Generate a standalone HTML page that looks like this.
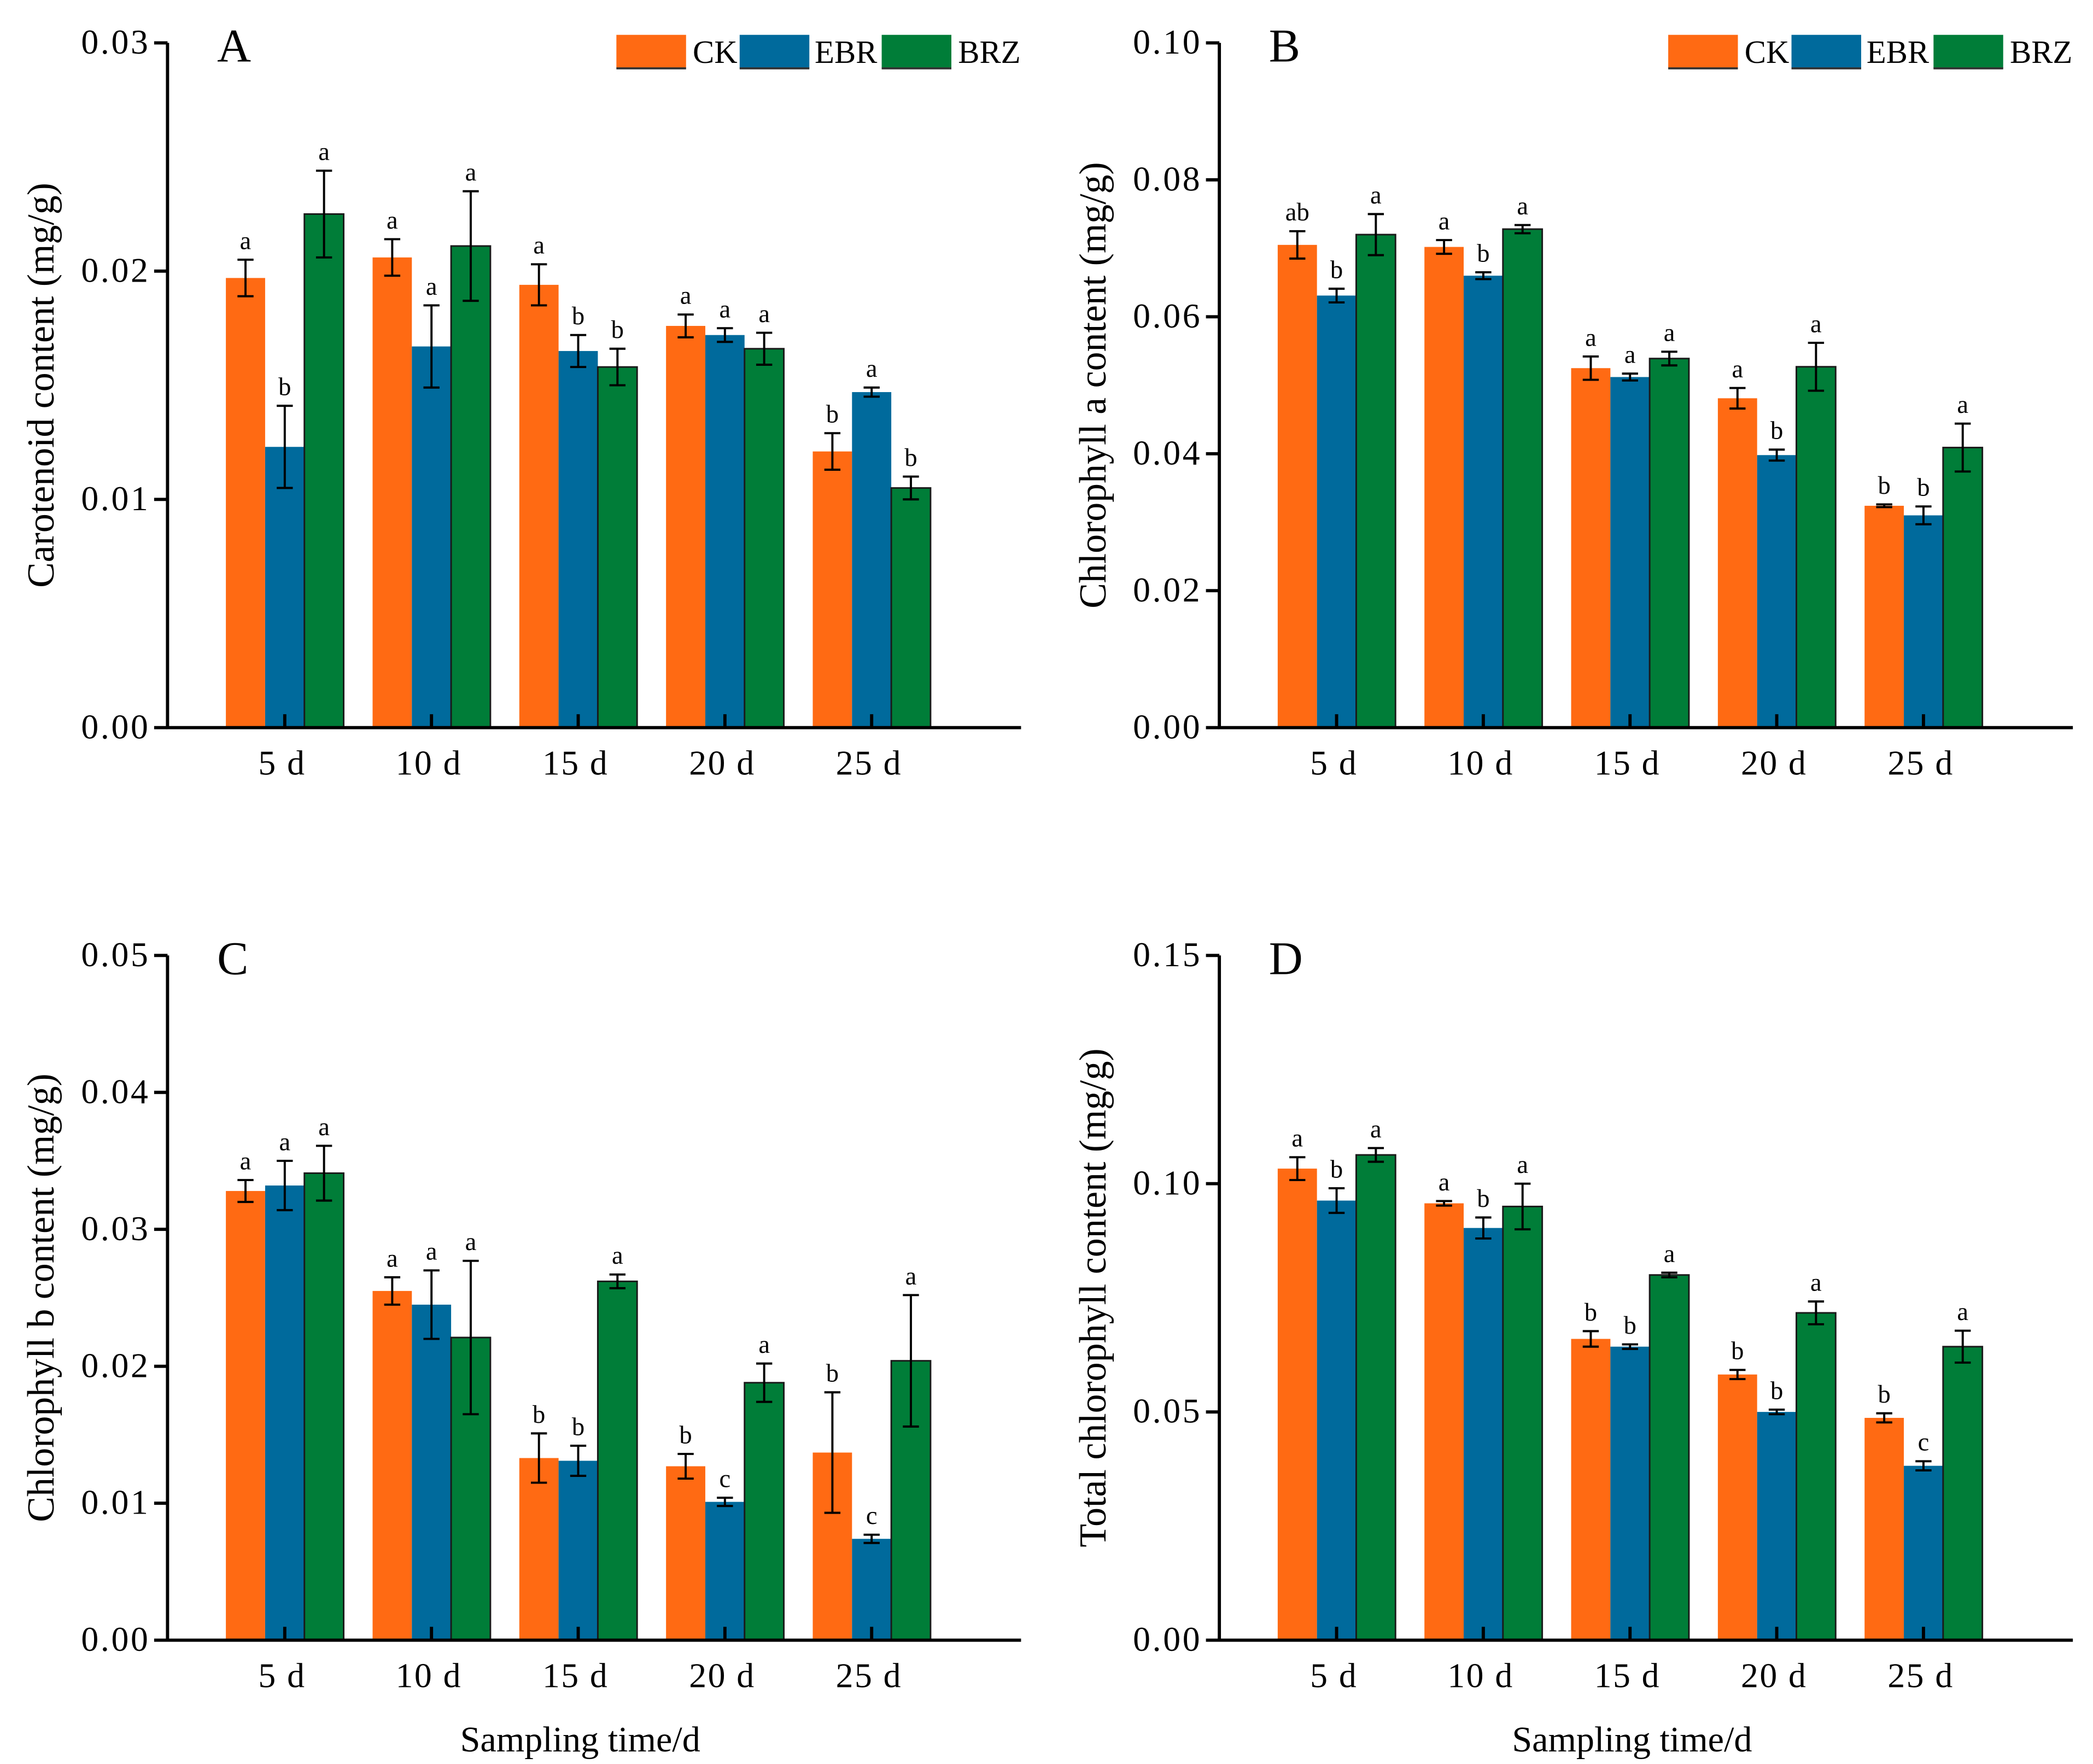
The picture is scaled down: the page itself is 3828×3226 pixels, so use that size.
<!DOCTYPE html>
<html><head><meta charset="utf-8"><style>
html,body{margin:0;padding:0;background:#fff;}
svg{display:block;font-family:"Liberation Serif",serif;}
</style></head><body>
<svg id="fig" width="3828" height="3226" viewBox="0 0 1562 1316.4" xmlns="http://www.w3.org/2000/svg">
<rect x="0" y="0" width="1562" height="1317" fill="#fff"/>
</svg>
<script>
const categories = ["5 d","10 d","15 d","20 d","25 d"];
const seriesNames = ["CK","EBR","BRZ"];
// Panel A: carotenoid
const aCK = [0.0197,0.0206,0.0194,0.0176,0.0121];
const aCKerr = [0.0008,0.0008,0.0009,0.0005,0.0008];
const aEBR = [0.0123,0.0167,0.0165,0.0172,0.0147];
const aEBRerr = [0.0018,0.0018,0.0007,0.0003,0.0002];
const aBRZ = [0.0225,0.0211,0.0158,0.0166,0.0105];
const aBRZerr = [0.0019,0.0024,0.0008,0.0007,0.0005];
const aLetters = [["a","a","a","a","b"],["b","a","b","a","a"],["a","a","b","a","b"]];
const aTicks = ["0.00","0.01","0.02","0.03"];
// Panel B: chlorophyll a
const bCK = [0.0705,0.0702,0.0525,0.0481,0.0324];
const bCKerr = [0.0020,0.0010,0.0017,0.0015,0.0002];
const bEBR = [0.0631,0.0660,0.0512,0.0398,0.0310];
const bEBRerr = [0.0010,0.0005,0.0005,0.0008,0.0013];
const bBRZ = [0.0720,0.0728,0.0539,0.0527,0.0409];
const bBRZerr = [0.0030,0.0006,0.0010,0.0035,0.0035];
const bLetters = [["ab","a","a","a","b"],["b","b","a","b","b"],["a","a","a","a","a"]];
const bTicks = ["0.00","0.02","0.04","0.06","0.08","0.10"];
// Panel C: chlorophyll b
const cCK = [0.0328,0.0255,0.0133,0.0127,0.0137];
const cCKerr = [0.0008,0.0010,0.0018,0.0009,0.0044];
const cEBR = [0.0332,0.0245,0.0131,0.0101,0.0074];
const cEBRerr = [0.0018,0.0025,0.0011,0.0003,0.0003];
const cBRZ = [0.0341,0.0221,0.0262,0.0188,0.0204];
const cBRZerr = [0.0020,0.0056,0.0005,0.0014,0.0048];
const cLetters = [["a","a","b","b","b"],["a","a","b","c","c"],["a","a","a","a","a"]];
const cTicks = ["0.00","0.01","0.02","0.03","0.04","0.05"];
// Panel D: total chlorophyll
const dCK = [0.1033,0.0957,0.0660,0.0582,0.0487];
const dCKerr = [0.0025,0.0005,0.0017,0.0010,0.0010];
const dEBR = [0.0963,0.0903,0.0643,0.0500,0.0382];
const dEBRerr = [0.0027,0.0023,0.0005,0.0005,0.0010];
const dBRZ = [0.1063,0.0950,0.0800,0.0717,0.0643];
const dBRZerr = [0.0015,0.0050,0.0005,0.0025,0.0035];
const dLetters = [["a","a","b","b","b"],["b","b","b","b","c"],["a","a","a","a","a"]];
const dTicks = ["0.00","0.05","0.10","0.15"];

const colors = ["#FF6A13","#006A9C","#007D38"];
const NS = "http://www.w3.org/2000/svg";
const svg = document.getElementById("fig");
function mk(tag, attrs, parent, txt){
  const e = document.createElementNS(NS, tag);
  for (const k in attrs) e.setAttribute(k, attrs[k]);
  if (txt !== undefined) e.textContent = txt;
  (parent || svg).appendChild(e);
  return e;
}
function panel(id, ox, oy, ticks, vals, errs, letters, ytitle, letter, showLegend, showX){
  const g = mk("g", {});
  
  
  const x0 = ox + 125, x1 = ox + 762, yTop = oy + 32, yBot = oy + 543;
  const yMax = parseFloat(ticks[ticks.length - 1]);
  const yS = v => yBot - v / yMax * (yBot - yTop);
  const xC = i => ox + 212.5 + i * 109.5;
  const bw = 29.3;
  for (let s = 0; s < 3; s++) {
    for (let i = 0; i < categories.length; i++) {
      const v = vals[s][i], e = errs[s][i];
      const bx = xC(i) + (s - 1.5) * bw;
      const r = mk("rect", {x: bx, y: yS(v), width: bw, height: yBot - yS(v), fill: colors[s], stroke: s == 2 ? "#1a1a1a" : "none", "stroke-width": 1.2}, g);
      
      
      const cx = bx + bw / 2;
      const eb = mk("g", {stroke: "#000", "stroke-width": 1.6}, g);
      
      
      mk("line", {x1: cx, x2: cx, y1: yS(v + e), y2: yS(v - e)}, eb);
      mk("line", {x1: cx - 6, x2: cx + 6, y1: yS(v + e), y2: yS(v + e)}, eb);
      mk("line", {x1: cx - 6, x2: cx + 6, y1: yS(v - e), y2: yS(v - e)}, eb);
      const t = mk("text", {x: cx, y: yS(v + e) - 8, "text-anchor": "middle", "font-size": 19}, g, letters[s][i]);
      
      
    }
  }
  const ax = mk("path", {d: `M${x0},${yTop}V${yBot}H${x1}`, fill: "none", stroke: "#000", "stroke-width": 2.4}, g);
  
  
  ticks.forEach((t, k) => {
    const y = yS(parseFloat(t));
    mk("line", {x1: x0 - 10, x2: x0, y1: y, y2: y, stroke: "#000", "stroke-width": 2.4}, g);
    const tl = mk("text", {x: x0 - 13, y: y + 8, "text-anchor": "end", "font-size": 26, "letter-spacing": 1.5}, g, t);
    
    
  });
  categories.forEach((c, i) => {
    mk("line", {x1: xC(i), x2: xC(i), y1: yBot - 10, y2: yBot, stroke: "#000", "stroke-width": 2.4}, g);
    const tl = mk("text", {x: xC(i) - 2, y: yBot + 35, "text-anchor": "middle", "font-size": 26, "letter-spacing": 1}, g, c);
    
    
  });
  const yt = mk("text", {x: 0, y: 0, transform: `translate(${ox + 40},${(yTop + yBot) / 2}) rotate(-90)`, "text-anchor": "middle", "font-size": 28.5}, g, ytitle);
  
  
  const pl = mk("text", {x: ox + 162, y: oy + 46, "font-size": 35}, g, letter);
  
  
  if (showX) {
    const xt = mk("text", {x: ox + 433, y: oy + 626, "text-anchor": "middle", "font-size": 27}, g, "Sampling time/d");
    
    
  }
  if (showLegend) {
    const lg = mk("g", {}, g);
    
    
    const lx = [460, 552, 658], tx = [518, 609, 716];
    for (let s = 0; s < 3; s++) {
      mk("rect", {x: ox + lx[s], y: oy + 26, width: 52, height: 25, fill: colors[s]}, lg);
      mk("line", {x1: ox + lx[s], x2: ox + lx[s] + 52, y1: oy + 51, y2: oy + 51, stroke: "#333", "stroke-width": 1.5}, lg);
      const t = mk("text", {x: ox + tx[s] - 1, y: oy + 47, "font-size": 24}, lg, seriesNames[s]);
      
      
    }
  }
}
panel("a", 0, 0, aTicks, [aCK, aEBR, aBRZ], [aCKerr, aEBRerr, aBRZerr], aLetters, "Carotenoid content (mg/g)", "A", true, false);
panel("b", 785, 0, bTicks, [bCK, bEBR, bBRZ], [bCKerr, bEBRerr, bBRZerr], bLetters, "Chlorophyll a content (mg/g)", "B", true, false);
panel("c", 0, 681, cTicks, [cCK, cEBR, cBRZ], [cCKerr, cEBRerr, cBRZerr], cLetters, "Chlorophyll b content (mg/g)", "C", false, true);
panel("d", 785, 681, dTicks, [dCK, dEBR, dBRZ], [dCKerr, dEBRerr, dBRZerr], dLetters, "Total chlorophyll content (mg/g)", "D", false, true);
</script>
</body></html>
